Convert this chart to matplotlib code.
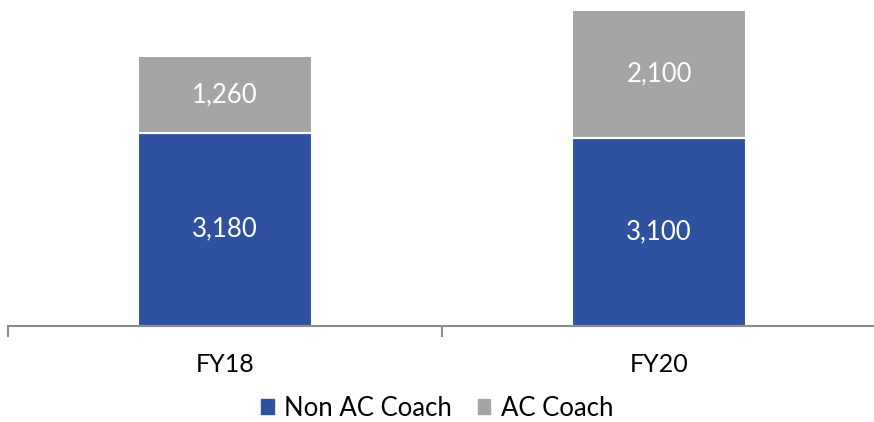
import matplotlib
matplotlib.use("Agg")
import matplotlib.pyplot as plt
from matplotlib.patches import Patch

years = ["FY18", "FY20"]
non_ac = [3180, 3100]
ac = [1260, 2100]

blue = "#2F52A0"
grey = "#A5A5A5"
axis_grey = "#8C8C8C"

plt.rcParams["font.family"] = ["Lato", "DejaVu Sans"]

fig = plt.figure(figsize=(8.74, 4.22), dpi=100)
ax = fig.add_axes([8 / 874, (422 - 325.5) / 422, 868 / 874, 325.5 / 422])

x = list(range(len(years)))
ax.bar(x, non_ac, width=0.4, color=blue, edgecolor="white", linewidth=1.5)
ax.bar(x, ac, width=0.4, bottom=non_ac, color=grey, edgecolor="white", linewidth=1.5)

for i in x:
    ax.text(i, non_ac[i] / 2, f"{non_ac[i]:,}", ha="center", va="center",
            color="white", fontsize=18.5)
    ax.text(i, non_ac[i] + ac[i] / 2, f"{ac[i]:,}", ha="center", va="center",
            color="white", fontsize=18.5)

ax.set_xlim(-0.5, 1.5)
ax.set_ylim(0, 5371)
ax.set_yticks([])
for s in ["top", "right", "left"]:
    ax.spines[s].set_visible(False)
ax.spines["bottom"].set_color(axis_grey)
ax.spines["bottom"].set_linewidth(1.5)

ax.set_xticks([-0.5, 0.5, 1.5])
ax.set_xticklabels([])
ax.tick_params(axis="x", length=8, width=1.5, color=axis_grey)
for i in x:
    ax.text(i, -650, years[i], ha="center", va="center", fontsize=18, color="black")

handles = [Patch(color=blue, label="Non AC Coach"), Patch(color=grey, label="AC Coach")]
fig.legend(handles=handles, loc="center", bbox_to_anchor=(0.5, 14 / 422),
           ncol=2, frameon=False, fontsize=18.5, handlelength=0.5, handleheight=0.5,
           handletextpad=0.4, columnspacing=1.0, borderpad=0.2)

fig.savefig("out.png", dpi=100)
